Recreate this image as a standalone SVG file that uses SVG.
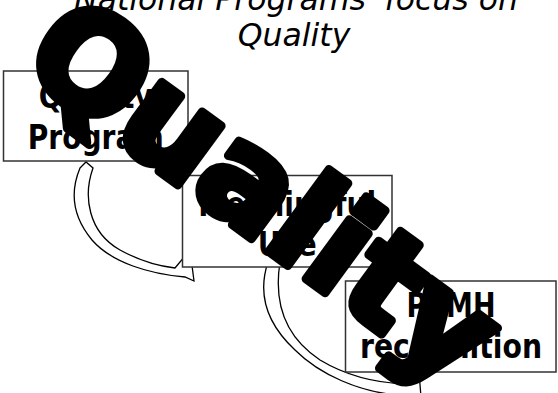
<svg xmlns="http://www.w3.org/2000/svg" width="558" height="393" viewBox="0 0 558 393">
<style>
.title{font-family:"DejaVu Sans","Liberation Sans",sans-serif;font-style:italic;font-size:31.5px;fill:#000;text-anchor:middle}
.box{fill:#fff;stroke:#333;stroke-width:1.5}
.lbl{font-family:"DejaVu Sans","Liberation Sans",sans-serif;font-weight:bold;font-size:33px;fill:#000;text-anchor:middle}
.arr{fill:#fff;stroke:#000;stroke-width:1.3;stroke-linejoin:miter}
.big{font-family:"DejaVu Sans","Liberation Sans",sans-serif;font-weight:bold;font-size:134px;fill:#000;stroke:#000;stroke-width:9;stroke-linejoin:round}
</style>
<g id="title">
<text class="title" x="296" y="10">National Programs' focus on</text>
<text class="title" x="294" y="46">Quality</text>
</g>
<g id="connectors">
<path class="arr" d="M80,168 L86,162 L93,168 C83,196 88,232 120,250 C140,261 158,266 175,268 L190,250 L194,281 L185,277 C150,274 112,263 92,240 C72,216 70,192 80,168 Z"/>
<path class="arr" d="M268,262 L280,262 C274,300 282,335 320,360 C345,375 375,383 406,384 L418,360 L421,397 L398,395 C360,392 320,375 295,350 C265,322 258,292 268,262 Z"/>
</g>
<g id="node1">
<rect class="box" x="3.5" y="71" width="184.5" height="90"/>
<text class="lbl" x="95.7" y="108" textLength="114" lengthAdjust="spacingAndGlyphs">Quality</text>
<text class="lbl" x="95.7" y="149" textLength="136" lengthAdjust="spacingAndGlyphs">Program</text>
</g>
<g id="node2">
<rect class="box" x="182.5" y="175.5" width="209.5" height="91.5"/>
<text class="lbl" x="287.2" y="216" textLength="178" lengthAdjust="spacingAndGlyphs">Meaningful</text>
<text class="lbl" x="287.2" y="256" textLength="59" lengthAdjust="spacingAndGlyphs">Use</text>
</g>
<g id="node3">
<rect class="box" x="345.5" y="281" width="210.5" height="91"/>
<text class="lbl" x="451" y="317" textLength="89" lengthAdjust="spacingAndGlyphs">PCMH</text>
<text class="lbl" x="451" y="358" textLength="182" lengthAdjust="spacingAndGlyphs">recognition</text>
</g>
<g id="wordart">
<text class="big" transform="translate(18,68) rotate(36.2)" x="0" y="0">Quality</text>
</g>
</svg>
